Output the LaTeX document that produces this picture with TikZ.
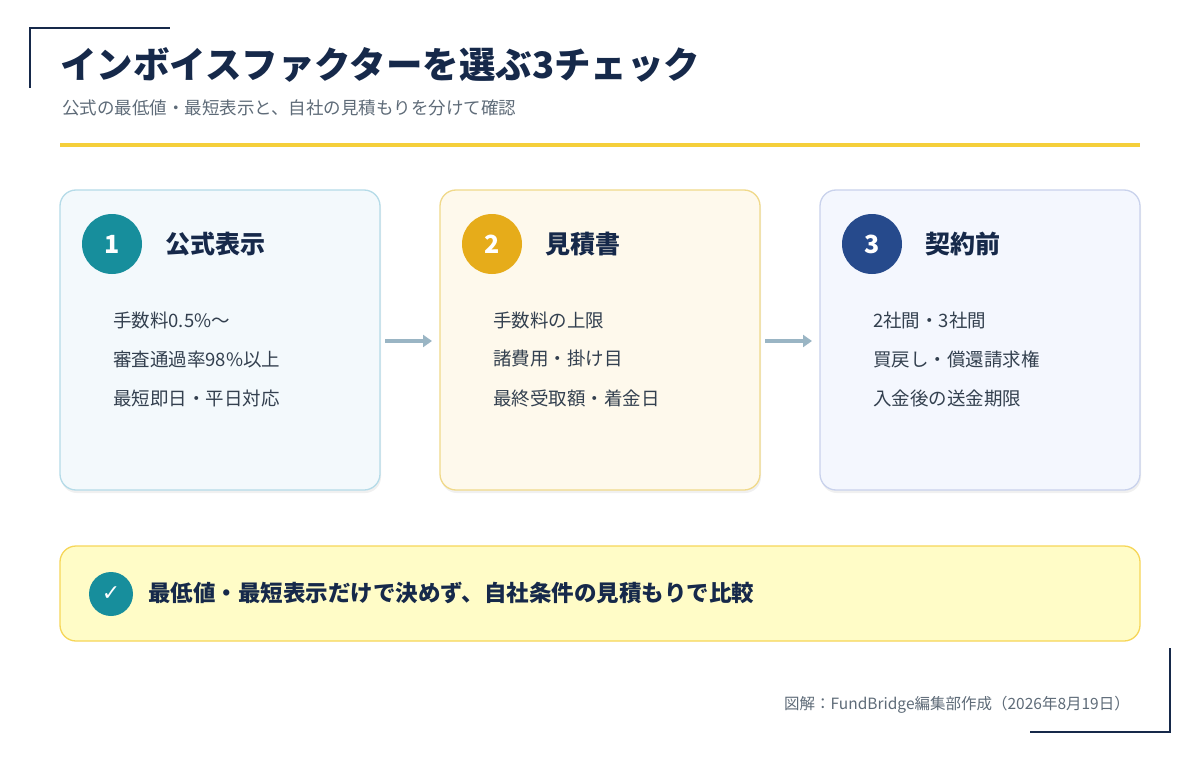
\documentclass[tikz,border=0pt]{standalone}
\usepackage{fontspec}
\setmainfont{Noto Sans CJK JP}[BoldFont={* Black}]
\newfontfamily\djv{DejaVu Sans}
\usetikzlibrary{arrows.meta}
\definecolor{navy}{HTML}{16294A}
\definecolor{txt}{HTML}{33404F}
\definecolor{gray}{HTML}{5E6B78}
\definecolor{ylw}{HTML}{F5CF3A}
\definecolor{teal}{HTML}{178E9C}
\definecolor{gold}{HTML}{E6AC1A}
\definecolor{blu}{HTML}{264A8C}
\definecolor{arr}{HTML}{9AB5C4}
\tikzset{
 card/.style={rounded corners=16pt,line width=1.3pt},
 num/.style={circle,minimum size=60pt,inner sep=0pt,text=white,font=\bfseries\fontsize{25}{25}\selectfont},
 head/.style={anchor=west,inner sep=0pt,text=navy,font=\bfseries\fontsize{25}{25}\selectfont},
 item/.style={anchor=west,text=txt,font=\fontsize{18.5}{18.5}\selectfont,inner sep=0pt},
 flow/.style={draw=arr,line width=3.5pt,-{Triangle[length=9pt,width=12pt]}},
 bracket/.style={draw=navy,line width=2pt}
}
\begin{document}
\begin{tikzpicture}[x=1pt,y=-1pt]
\useasboundingbox[fill=white] (0,0) rectangle (1200,760);
\draw[bracket] (30,88) -- (30,28) -- (170,28);
\draw[bracket] (1030,732) -- (1170,732) -- (1170,648);
\node[anchor=west,inner sep=0pt,text=navy,font=\bfseries\fontsize{36.5}{36.5}\selectfont] (title) at (60,65) {インボイスファクターを選ぶ3チェック};
\node[anchor=west,inner sep=0pt,text=gray,font=\fontsize{17.5}{17.5}\selectfont] (sub) at (62,108) {公式の最低値・最短表示と、自社の見積もりを分けて確認};
\draw[ylw,line width=3.5pt] (60,145) -- (1140,145);
% cards
\foreach \x/\f/\d in {60/F3F9FC/B5DBE8,440/FEF9EC/F0D98A,820/F4F7FE/C9D2EC}{
 \definecolor{cf}{HTML}{\f}\definecolor{cd}{HTML}{\d}
 \fill[black!6,rounded corners=16pt] (\x+1,193) rectangle (\x+321,493);
 \draw[card,fill=cf,draw=cd] (\x,190) rectangle (\x+320,490);
}
\coordinate (c1r) at (385,341); \coordinate (c2l) at (432,341);
\coordinate (c2r) at (765,341); \coordinate (c3l) at (812,341);
\node[num,fill=teal] (n1) at (112,244) {1};
\node[num,fill=gold] (n2) at (492,244) {2};
\node[num,fill=blu] (n3) at (872,244) {3};
\node[head] (h1) at (165,244) {公式表示};
\node[head] (h2) at (545,244) {見積書};
\node[head] (h3) at (925,244) {契約前};
\node[item] (a1) at (113,320) {手数料0.5\%〜};
\node[item] (a2) at (113,359) {審査通過率98\%以上};
\node[item] (a3) at (113,398) {最短即日・平日対応};
\node[item] (b1) at (493,320) {手数料の上限};
\node[item] (b2) at (493,359) {諸費用・掛け目};
\node[item] (b3) at (493,398) {最終受取額・着金日};
\node[item] (d1) at (873,320) {2社間・3社間};
\node[item] (d2) at (873,359) {買戻し・償還請求権};
\node[item] (d3) at (873,398) {入金後の送金期限};
\draw[flow] (c1r) -- (c2l);
\draw[flow] (c2r) -- (c3l);
% bottom
\draw[card,fill=yellow!22,draw=ylw!85] (60,546) rectangle (1140,641);
\node[circle,fill=teal,minimum size=44pt,inner sep=0pt,text=white,font=\djv\bfseries\fontsize{22}{22}\selectfont] (ck) at (111,594) {✓};
\node[anchor=west,inner sep=0pt,text=navy,font=\bfseries\fontsize{22.5}{22.5}\selectfont] (bt) at (148,593) {最低値・最短表示だけで決めず、自社条件の見積もりで比較};
\node[anchor=east,inner sep=0pt,text=gray,font=\fontsize{15.5}{15.5}\selectfont] (ft) at (1130,705) {図解：FundBridge編集部作成（2026年8月19日）};
\end{tikzpicture}
\end{document}
